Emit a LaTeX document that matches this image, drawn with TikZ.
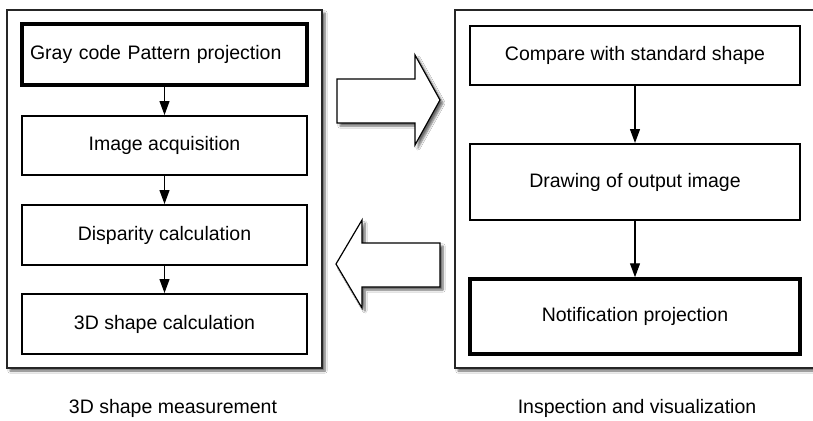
\documentclass[tikz,border=0pt]{standalone}
\usepackage{fontspec}
\setmainfont{Liberation Sans}
\usetikzlibrary{arrows.meta,shadows.blur}
\begin{document}
\begin{tikzpicture}[x=1pt,y=-1pt,
  frame/.style={draw=black!85,line width=1.4pt,fill=white,inner sep=0pt,
    blur shadow={shadow xshift=3pt,shadow yshift=-3pt,shadow blur steps=6,shadow opacity=60}},
  stepbox/.style={draw,line width=2pt,fill=white,inner sep=0pt,
    font=\fontsize{19.5}{23}\selectfont},
  thickbox/.style={stepbox,line width=3.5pt},
  conn/.style={line width=1.2pt,-{Triangle[length=14pt,width=10pt]}},
  blockarrow/.style={draw,line width=1.2pt,fill=white,
    blur shadow={shadow xshift=3pt,shadow yshift=-3pt,shadow blur steps=6,shadow opacity=60}},
  caption/.style={font=\fontsize{19.5}{23}\selectfont,inner sep=0pt}]
\useasboundingbox (0,0) rectangle (813,420);
\clip (0,0) rectangle (813,420);
\fill[white] (0,0) rectangle (813,420);
% frames
\node[frame,minimum width=315pt,minimum height=358pt] (lf) at (164.5,189) {};
\node[frame,minimum width=370pt,minimum height=358pt] (rf) at (640,189) {};
% left boxes
\node[thickbox,minimum width=285pt,minimum height=61pt,text width=269pt,align=left,inner xsep=8pt] (b1) at (164.5,54.5) {Gray code Pattern projection};
\node[stepbox,minimum width=285pt,minimum height=59pt] (b2) at (164.5,145.5) {Image acquisition};
\node[stepbox,minimum width=285pt,minimum height=60pt] (b3) at (164.5,235) {Disparity calculation};
\node[stepbox,minimum width=285pt,minimum height=60pt] (b4) at (164.5,324) {3D shape calculation};
\draw[conn] (b1) -- (b2);
\draw[conn] (b2) -- (b3);
\draw[conn] (b3) -- (b4);
% right boxes
\node[stepbox,minimum width=330pt,minimum height=59pt] (ra) at (635,55.5) {Compare with standard shape};
\node[stepbox,minimum width=330pt,minimum height=76pt] (rb) at (635,182) {Drawing of output image};
\node[thickbox,minimum width=330pt,minimum height=75pt] (rc) at (635,316.5) {Notification projection};
\draw[conn] (ra) -- (rb);
\draw[conn] (rb) -- (rc);
% block arrows
\draw[blockarrow] (337,79) -- (415,79) -- (415,55) -- (440,100) -- (415,145) -- (415,123) -- (337,123) -- cycle;
\draw[blockarrow] (336,264) -- (362,220) -- (362,243) -- (440,243) -- (440,287) -- (362,287) -- (362,308) -- cycle;
% captions
\node[caption] (c1) at (173,408) {3D shape measurement};
\node[caption] (c2) at (637,408) {Inspection and visualization};
\end{tikzpicture}
\end{document}
